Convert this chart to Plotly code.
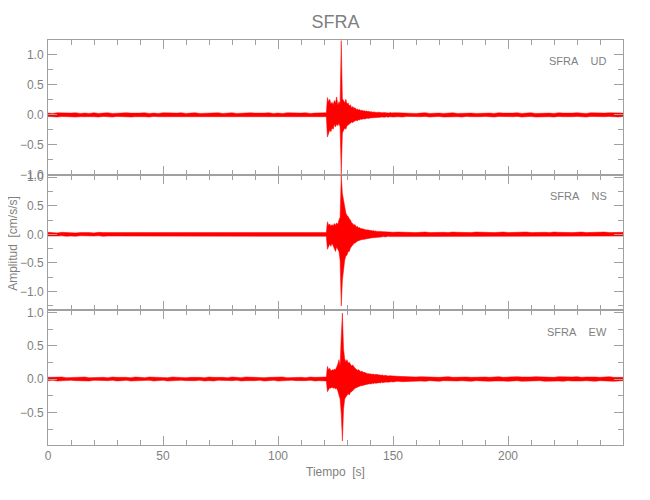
import plotly.graph_objects as go
from plotly.subplots import make_subplots

# ---------------- data (envelopes) ----------------
# sample times [s]: 2 s steps away from the event, 0.5 s steps through it
T_PRE = list(range(0, 120, 2))                 # 60 samples
T_EVT = [120 + 0.5 * i for i in range(61)]     # 120.0 ... 150.0
T_POST = list(range(152, 251, 2))              # 50 samples
T = T_PRE + T_EVT + T_POST

# ---- UD ----
UD_PRE_UP = [0.03, 0.025, 0.035, 0.03, 0.025, 0.03, 0.035, 0.025, 0.03, 0.025,
             0.035, 0.025, 0.03, 0.035, 0.025, 0.03, 0.025, 0.035, 0.03, 0.025,
             0.03, 0.035, 0.025, 0.03, 0.025, 0.035, 0.03, 0.025, 0.03, 0.035,
             0.025, 0.03, 0.035, 0.025, 0.03, 0.025, 0.03, 0.035, 0.025, 0.03,
             0.035, 0.025, 0.03, 0.025, 0.035, 0.03, 0.025, 0.03, 0.035, 0.025,
             0.03, 0.025, 0.035, 0.03, 0.025, 0.03, 0.035, 0.025, 0.03, 0.03]
UD_PRE_LO = [-0.025, -0.03, -0.035, -0.025, -0.03, -0.025, -0.035, -0.03, -0.025, -0.03,
             -0.03, -0.035, -0.025, -0.03, -0.035, -0.025, -0.03, -0.025, -0.035, -0.03,
             -0.025, -0.03, -0.035, -0.025, -0.03, -0.03, -0.025, -0.035, -0.03, -0.025,
             -0.035, -0.025, -0.03, -0.035, -0.025, -0.03, -0.035, -0.025, -0.03, -0.025,
             -0.03, -0.035, -0.025, -0.03, -0.025, -0.035, -0.03, -0.025, -0.03, -0.035,
             -0.025, -0.03, -0.025, -0.035, -0.03, -0.025, -0.03, -0.035, -0.025, -0.03]
UD_EVT_UP = [0.03, 0.025, 0.035, 0.29, 0.22, 0.26, 0.18, 0.21, 0.17, 0.24,
             0.2, 0.3, 0.16, 0.22, 0.19, 1.24, 0.27, 0.24, 0.2, 0.26,
             0.18, 0.2, 0.15, 0.17, 0.12, 0.14, 0.11, 0.12, 0.09, 0.1,
             0.08, 0.09, 0.07, 0.08, 0.065, 0.07, 0.06, 0.065, 0.055, 0.06,
             0.05, 0.055, 0.045, 0.05, 0.045, 0.05, 0.04, 0.045, 0.04, 0.045,
             0.04, 0.035, 0.04, 0.035, 0.04, 0.035, 0.03, 0.035, 0.04, 0.03,
             0.035]
UD_EVT_LO = [-0.03, -0.035, -0.03, -0.37, -0.3, -0.25, -0.28, -0.22, -0.24, -0.16,
             -0.2, -0.15, -0.18, -0.14, -0.2, -0.99, -0.3, -0.26, -0.22, -0.24,
             -0.18, -0.17, -0.16, -0.14, -0.12, -0.13, -0.11, -0.1, -0.09, -0.1,
             -0.08, -0.085, -0.07, -0.075, -0.065, -0.07, -0.06, -0.06, -0.055, -0.06,
             -0.05, -0.05, -0.045, -0.05, -0.045, -0.045, -0.04, -0.045, -0.04, -0.04,
             -0.035, -0.04, -0.035, -0.04, -0.03, -0.035, -0.04, -0.03, -0.035, -0.03,
             -0.035]
UD_POST_UP = [0.035, 0.03, 0.035, 0.03, 0.025, 0.03, 0.035, 0.025, 0.03, 0.03,
              0.025, 0.03, 0.035, 0.025, 0.03, 0.035, 0.03, 0.025, 0.03, 0.035,
              0.03, 0.025, 0.035, 0.03, 0.025, 0.03, 0.035, 0.025, 0.03, 0.035,
              0.025, 0.03, 0.035, 0.03, 0.025, 0.035, 0.03, 0.025, 0.03, 0.035,
              0.03, 0.025, 0.035, 0.03, 0.025, 0.03, 0.035, 0.03, 0.025, 0.03]
UD_POST_LO = [-0.03, -0.035, -0.025, -0.03, -0.035, -0.03, -0.025, -0.035, -0.03, -0.025,
              -0.035, -0.03, -0.025, -0.03, -0.035, -0.025, -0.03, -0.035, -0.03, -0.025,
              -0.03, -0.035, -0.025, -0.03, -0.035, -0.03, -0.025, -0.035, -0.03, -0.025,
              -0.035, -0.03, -0.025, -0.03, -0.035, -0.025, -0.03, -0.035, -0.03, -0.025,
              -0.03, -0.035, -0.025, -0.03, -0.035, -0.03, -0.025, -0.03, -0.035, -0.025]

# ---- NS ----
NS_PRE_UP = [0.035, 0.03, 0.025, 0.035, 0.03, 0.035, 0.025, 0.03, 0.035, 0.03,
             0.025, 0.035, 0.03, 0.03, 0.035, 0.025, 0.03, 0.035, 0.03, 0.025,
             0.035, 0.03, 0.025, 0.035, 0.03, 0.03, 0.035, 0.025, 0.03, 0.035,
             0.03, 0.025, 0.035, 0.03, 0.035, 0.025, 0.03, 0.035, 0.03, 0.025,
             0.03, 0.035, 0.025, 0.03, 0.035, 0.03, 0.025, 0.035, 0.03, 0.035,
             0.025, 0.03, 0.035, 0.03, 0.025, 0.035, 0.03, 0.03, 0.035, 0.03]
NS_PRE_LO = [-0.03, -0.035, -0.03, -0.025, -0.035, -0.03, -0.035, -0.025, -0.03, -0.035,
             -0.03, -0.025, -0.035, -0.03, -0.03, -0.035, -0.025, -0.03, -0.035, -0.03,
             -0.025, -0.035, -0.03, -0.03, -0.035, -0.025, -0.03, -0.035, -0.03, -0.025,
             -0.035, -0.03, -0.025, -0.035, -0.03, -0.035, -0.03, -0.025, -0.035, -0.03,
             -0.03, -0.025, -0.035, -0.03, -0.035, -0.025, -0.03, -0.035, -0.03, -0.03,
             -0.035, -0.025, -0.03, -0.035, -0.03, -0.03, -0.025, -0.035, -0.03, -0.035]
NS_EVT_UP = [0.03, 0.035, 0.03, 0.22, 0.16, 0.18, 0.14, 0.17, 0.15, 0.19,
             0.16, 0.2, 0.17, 0.25, 0.3, 1.03, 0.71, 0.6, 0.45, 0.37,
             0.33, 0.31, 0.27, 0.25, 0.2, 0.19, 0.16, 0.17, 0.13, 0.14,
             0.11, 0.12, 0.1, 0.1, 0.09, 0.09, 0.08, 0.08, 0.07, 0.075,
             0.065, 0.07, 0.06, 0.065, 0.055, 0.06, 0.05, 0.055, 0.05, 0.05,
             0.045, 0.05, 0.045, 0.045, 0.04, 0.045, 0.04, 0.04, 0.035, 0.04,
             0.035]
NS_EVT_LO = [-0.035, -0.03, -0.035, -0.26, -0.2, -0.17, -0.21, -0.16, -0.2, -0.24,
             -0.3, -0.22, -0.25, -0.3, -0.45, -1.25, -0.8, -0.56, -0.45, -0.38,
             -0.36, -0.3, -0.3, -0.24, -0.21, -0.18, -0.16, -0.15, -0.13, -0.12,
             -0.11, -0.1, -0.1, -0.09, -0.09, -0.085, -0.08, -0.075, -0.07, -0.07,
             -0.065, -0.065, -0.06, -0.06, -0.055, -0.055, -0.05, -0.05, -0.05, -0.045,
             -0.045, -0.045, -0.04, -0.045, -0.04, -0.04, -0.035, -0.04, -0.04, -0.035,
             -0.04]
NS_POST_UP = [0.04, 0.035, 0.04, 0.035, 0.03, 0.035, 0.04, 0.03, 0.035, 0.03,
              0.035, 0.03, 0.04, 0.035, 0.03, 0.035, 0.03, 0.04, 0.035, 0.03,
              0.035, 0.03, 0.035, 0.04, 0.03, 0.035, 0.03, 0.035, 0.04, 0.03,
              0.035, 0.03, 0.035, 0.03, 0.04, 0.035, 0.03, 0.035, 0.03, 0.035,
              0.04, 0.03, 0.035, 0.03, 0.035, 0.04, 0.03, 0.035, 0.03, 0.035]
NS_POST_LO = [-0.035, -0.04, -0.03, -0.035, -0.04, -0.03, -0.035, -0.03, -0.04, -0.035,
              -0.03, -0.035, -0.03, -0.04, -0.035, -0.03, -0.035, -0.03, -0.035, -0.04,
              -0.03, -0.035, -0.03, -0.035, -0.04, -0.03, -0.035, -0.03, -0.035, -0.03,
              -0.04, -0.035, -0.03, -0.035, -0.03, -0.04, -0.035, -0.03, -0.035, -0.03,
              -0.035, -0.04, -0.03, -0.035, -0.03, -0.035, -0.04, -0.03, -0.035, -0.03]

# ---- EW ----
EW_PRE_UP = [0.025, 0.03, 0.025, 0.03, 0.02, 0.025, 0.03, 0.025, 0.03, 0.02,
             0.025, 0.03, 0.025, 0.02, 0.03, 0.025, 0.03, 0.025, 0.02, 0.03,
             0.025, 0.02, 0.03, 0.025, 0.03, 0.025, 0.02, 0.03, 0.025, 0.03,
             0.02, 0.025, 0.03, 0.025, 0.02, 0.03, 0.025, 0.03, 0.025, 0.02,
             0.03, 0.025, 0.02, 0.03, 0.025, 0.03, 0.025, 0.02, 0.025, 0.03,
             0.025, 0.03, 0.02, 0.025, 0.03, 0.025, 0.02, 0.03, 0.025, 0.03]
EW_PRE_LO = [-0.025, -0.02, -0.03, -0.025, -0.03, -0.02, -0.025, -0.03, -0.025, -0.03,
             -0.02, -0.025, -0.03, -0.025, -0.02, -0.03, -0.025, -0.02, -0.03, -0.025,
             -0.03, -0.025, -0.02, -0.03, -0.025, -0.02, -0.03, -0.025, -0.03, -0.02,
             -0.025, -0.03, -0.025, -0.02, -0.03, -0.025, -0.03, -0.02, -0.025, -0.03,
             -0.025, -0.02, -0.03, -0.025, -0.03, -0.025, -0.02, -0.03, -0.025, -0.02,
             -0.03, -0.025, -0.03, -0.02, -0.025, -0.03, -0.025, -0.02, -0.03, -0.025]
EW_EVT_UP = [0.025, 0.03, 0.03, 0.19, 0.14, 0.16, 0.12, 0.14, 0.13, 0.15,
             0.14, 0.18, 0.22, 0.29, 0.2, 0.64, 0.99, 0.45, 0.3, 0.26,
             0.29, 0.24, 0.25, 0.22, 0.2, 0.21, 0.18, 0.16, 0.15, 0.13,
             0.14, 0.12, 0.11, 0.12, 0.1, 0.1, 0.09, 0.085, 0.08, 0.08,
             0.075, 0.08, 0.07, 0.075, 0.065, 0.07, 0.065, 0.06, 0.06, 0.06,
             0.055, 0.06, 0.05, 0.055, 0.05, 0.05, 0.045, 0.05, 0.045, 0.045,
             0.045]
EW_EVT_LO = [-0.03, -0.025, -0.03, -0.19, -0.15, -0.13, -0.14, -0.12, -0.14, -0.13,
             -0.15, -0.14, -0.18, -0.25, -0.3, -0.52, -0.93, -0.45, -0.3, -0.27,
             -0.25, -0.22, -0.24, -0.2, -0.19, -0.17, -0.16, -0.14, -0.13, -0.12,
             -0.12, -0.11, -0.1, -0.1, -0.09, -0.09, -0.085, -0.08, -0.08, -0.075,
             -0.07, -0.075, -0.065, -0.07, -0.06, -0.065, -0.06, -0.055, -0.055, -0.06,
             -0.05, -0.055, -0.05, -0.05, -0.045, -0.05, -0.045, -0.045, -0.045, -0.04,
             -0.045]
EW_POST_UP = [0.04, 0.035, 0.04, 0.035, 0.03, 0.035, 0.03, 0.035, 0.03, 0.025,
              0.03, 0.035, 0.025, 0.03, 0.035, 0.03, 0.025, 0.03, 0.035, 0.03,
              0.025, 0.03, 0.035, 0.025, 0.03, 0.025, 0.035, 0.03, 0.025, 0.03,
              0.035, 0.03, 0.025, 0.03, 0.025, 0.035, 0.03, 0.025, 0.03, 0.035,
              0.025, 0.03, 0.035, 0.03, 0.025, 0.03, 0.035, 0.025, 0.03, 0.025]
EW_POST_LO = [-0.035, -0.04, -0.035, -0.03, -0.035, -0.03, -0.035, -0.025, -0.03, -0.035,
              -0.025, -0.03, -0.035, -0.03, -0.025, -0.03, -0.035, -0.025, -0.03, -0.025,
              -0.035, -0.03, -0.025, -0.03, -0.035, -0.03, -0.025, -0.035, -0.03, -0.025,
              -0.03, -0.025, -0.035, -0.03, -0.025, -0.03, -0.035, -0.025, -0.03, -0.035,
              -0.03, -0.025, -0.03, -0.035, -0.025, -0.03, -0.025, -0.035, -0.03, -0.025]

CHANNELS = ["UD", "NS", "EW"]
STATION = "SFRA"
Y_RANGES = [[-1.003, 1.25], [-1.32, 1.035], [-0.99, 1.035]]
X_TICKS = [0, 50, 100, 150, 200]

UPPER = [UD_PRE_UP + UD_EVT_UP + UD_POST_UP,
         NS_PRE_UP + NS_EVT_UP + NS_POST_UP,
         EW_PRE_UP + EW_EVT_UP + EW_POST_UP]
LOWER = [UD_PRE_LO + UD_EVT_LO + UD_POST_LO,
         NS_PRE_LO + NS_EVT_LO + NS_POST_LO,
         EW_PRE_LO + EW_EVT_LO + EW_POST_LO]
for u, l in zip(UPPER, LOWER):
    assert len(u) == len(T) and len(l) == len(T), (len(u), len(l), len(T))

# ---------------- figure ----------------
FONT = "Liberation Sans, Arial, sans-serif"
TXT = "#7f7f7f"
AX = "#a0a0a0"
RED = "#ff0000"

fig = make_subplots(rows=3, cols=1, shared_xaxes=True, vertical_spacing=0)

for i in range(3):
    fig.add_trace(go.Scatter(x=T, y=LOWER[i], mode="lines",
                             line=dict(color=RED, width=0.5),
                             hoverinfo="skip", showlegend=False), row=i + 1, col=1)
    fig.add_trace(go.Scatter(x=T, y=UPPER[i], mode="lines",
                             line=dict(color=RED, width=0.5),
                             fill="tonexty", fillcolor=RED,
                             hoverinfo="skip", showlegend=False), row=i + 1, col=1)

for i in range(3):
    fig.update_xaxes(range=[0, 250], tickvals=X_TICKS, ticks="inside", ticklen=9,
                     tickcolor=AX, showline=True, linecolor=AX, linewidth=1,
                     mirror="ticks", showgrid=False, zeroline=False,
                     minor=dict(dtick=10, tick0=0, ticks="inside", ticklen=5,
                                tickcolor=AX, showgrid=False),
                     tickfont=dict(family=FONT, size=12, color=TXT),
                     row=i + 1, col=1)
    fig.update_yaxes(range=Y_RANGES[i], dtick=0.5, tick0=0, tickformat=".1f",
                     ticks="inside", ticklen=9, tickcolor=AX, showline=True,
                     linecolor=AX, linewidth=1, mirror="ticks", showgrid=False,
                     zeroline=False, ticklabelstandoff=1,
                     minor=dict(dtick=0.25, tick0=0, ticks="inside", ticklen=5,
                                tickcolor=AX, showgrid=False),
                     tickfont=dict(family=FONT, size=12, color=TXT),
                     row=i + 1, col=1)

nb = "\u00a0"
label_y = [0.948, 0.616, 0.280]
annotations = []
for i, ch in enumerate(CHANNELS):
    annotations.append(dict(text=f"{STATION}{nb*4}{ch}", xref="paper", yref="paper",
                            x=0.976, y=label_y[i], xanchor="right", yanchor="middle",
                            showarrow=False,
                            font=dict(family=FONT, size=11, color=TXT)))
annotations.append(dict(text=f"Tiempo{nb*2}[s]", xref="paper", yref="paper",
                        x=0.5, y=-0.067, xanchor="center", yanchor="middle",
                        showarrow=False, font=dict(family=FONT, size=12, color=TXT)))
annotations.append(dict(text=f"Amplitud{nb*2}[cm/s/s]", xref="paper", yref="paper",
                        x=-0.061, y=0.499, xanchor="center", yanchor="middle",
                        textangle=-90, showarrow=False,
                        font=dict(family=FONT, size=12, color=TXT)))

# the page body adds an 8 px offset, so margins are set to land the plot frame
# at the reference position (x 48..623, y 40..445 on screen)
fig.update_layout(
    width=650, height=500,
    margin=dict(l=40, r=35, t=32, b=63),
    paper_bgcolor="white", plot_bgcolor="white",
    title=dict(text=STATION, xref="paper", x=0.5, xanchor="center",
               y=0.972, yanchor="middle",
               font=dict(family=FONT, size=18, color=TXT)),
    annotations=annotations,
    showlegend=False,
)

fig.write_html("out.html")
